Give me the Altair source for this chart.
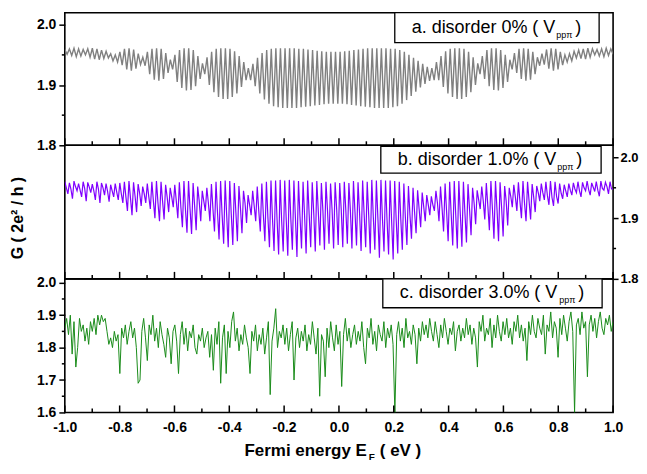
import altair as alt
import numpy as np
import pandas as pd

# ---------------- data ----------------
# panel a (disorder 0%): per oscillation, upper and lower extreme of G
a_top = [1.959, 1.960, 1.961, 1.960, 1.959, 1.960, 1.961, 1.960, 1.958, 1.956,
         1.952, 1.950,
         1.955, 1.960, 1.961, 1.959, 1.952,
         1.946,
         1.955, 1.960, 1.961, 1.960, 1.953,
         1.942,
         1.950, 1.958, 1.961, 1.961, 1.958, 1.948,
         1.936,
         1.946, 1.955, 1.960, 1.961, 1.961, 1.960, 1.956, 1.948, 1.938,
         1.928,
         1.935, 1.945, 1.953, 1.958, 1.960, 1.961, 1.961, 1.961, 1.961, 1.961,
         1.960, 1.960, 1.959, 1.958, 1.957, 1.956, 1.955, 1.955, 1.955, 1.955,
         1.956, 1.957, 1.958, 1.959, 1.960, 1.961, 1.961, 1.961, 1.961, 1.961,
         1.960, 1.960, 1.958, 1.955, 1.950, 1.945, 1.940, 1.935, 1.930,
         1.928,
         1.938, 1.948, 1.956, 1.960, 1.961, 1.961, 1.960, 1.955, 1.946,
         1.936,
         1.948, 1.958, 1.961, 1.961, 1.958, 1.950,
         1.942,
         1.953, 1.960, 1.961, 1.960, 1.955,
         1.946,
         1.952, 1.959, 1.961, 1.960, 1.955,
         1.950, 1.952,
         1.956, 1.958, 1.960, 1.961, 1.960, 1.959, 1.960, 1.961, 1.960]
a_bot = [1.951, 1.949, 1.947, 1.948, 1.950, 1.946, 1.943, 1.942, 1.944, 1.945,
         1.940, 1.938,
         1.933, 1.926, 1.924, 1.927, 1.934,
         1.932,
         1.918, 1.909, 1.907, 1.910, 1.920,
         1.926,
         1.905, 1.895, 1.891, 1.892, 1.898, 1.910,
         1.918,
         1.900, 1.888, 1.880, 1.877, 1.877, 1.880, 1.886, 1.897, 1.908,
         1.908,
         1.898, 1.886, 1.876, 1.869, 1.865, 1.863, 1.862, 1.862, 1.862, 1.862,
         1.863, 1.864, 1.865, 1.866, 1.867, 1.868, 1.869, 1.869, 1.869, 1.869,
         1.868, 1.867, 1.866, 1.865, 1.864, 1.863, 1.862, 1.862, 1.862, 1.862,
         1.863, 1.865, 1.869, 1.875, 1.882, 1.889, 1.896, 1.902, 1.907,
         1.908,
         1.908, 1.897, 1.886, 1.880, 1.877, 1.877, 1.880, 1.888, 1.900,
         1.918,
         1.910, 1.898, 1.892, 1.891, 1.895, 1.905,
         1.926,
         1.920, 1.910, 1.907, 1.909, 1.918,
         1.932,
         1.934, 1.927, 1.924, 1.926, 1.933,
         1.938, 1.940,
         1.945, 1.944, 1.943, 1.946, 1.950, 1.948, 1.947, 1.949, 1.951]

# panel b (disorder 1.0%): per oscillation top, shoulder, and spike bottom
b_top = [1.960, 1.958, 1.961, 1.957, 1.960, 1.959, 1.956, 1.960, 1.958, 1.957,
         1.955, 1.957,
         1.958, 1.960, 1.961, 1.959, 1.956,
         1.952,
         1.957, 1.960, 1.961, 1.960, 1.955,
         1.950,
         1.955, 1.959, 1.961, 1.961, 1.958, 1.952,
         1.945,
         1.950, 1.956, 1.960, 1.961, 1.962, 1.961, 1.958, 1.953, 1.945,
         1.938,
         1.945, 1.952, 1.957, 1.960, 1.962, 1.962, 1.963, 1.962, 1.963, 1.962,
         1.961, 1.960, 1.962, 1.959, 1.961, 1.958, 1.960, 1.957, 1.959, 1.958,
         1.960, 1.958, 1.961, 1.959, 1.962, 1.960, 1.963, 1.962, 1.963, 1.962,
         1.962, 1.961, 1.960, 1.957, 1.953, 1.950, 1.946, 1.942, 1.938,
         1.936,
         1.945, 1.952, 1.957, 1.960, 1.961, 1.961, 1.960, 1.956, 1.950,
         1.946,
         1.952, 1.958, 1.961, 1.961, 1.959, 1.953,
         1.950,
         1.955, 1.959, 1.961, 1.960, 1.956,
         1.953,
         1.957, 1.960, 1.961, 1.960, 1.957,
         1.955, 1.957,
         1.958, 1.960, 1.959, 1.961, 1.958, 1.960, 1.961, 1.959, 1.960]
b_mid = [1.950, 1.948, 1.952, 1.946, 1.949, 1.951, 1.945, 1.948, 1.950, 1.944,
         1.945, 1.943,
         1.940, 1.935, 1.933, 1.936, 1.941,
         1.940,
         1.935, 1.928, 1.925, 1.928, 1.935,
         1.935,
         1.928, 1.918, 1.914, 1.915, 1.920, 1.928,
         1.928,
         1.925, 1.915, 1.908, 1.905, 1.904, 1.906, 1.910, 1.917, 1.925,
         1.922,
         1.920, 1.912, 1.905, 1.900, 1.898, 1.896, 1.895, 1.896, 1.898, 1.900,
         1.902, 1.904, 1.906, 1.908, 1.910, 1.912, 1.913, 1.914, 1.915, 1.914,
         1.913, 1.912, 1.910, 1.908, 1.906, 1.904, 1.902, 1.900, 1.898, 1.896,
         1.895, 1.896, 1.898, 1.901, 1.905, 1.910, 1.915, 1.919, 1.922,
         1.922,
         1.925, 1.917, 1.910, 1.906, 1.904, 1.905, 1.908, 1.915, 1.925,
         1.930,
         1.928, 1.920, 1.915, 1.914, 1.918, 1.928,
         1.936,
         1.935, 1.928, 1.925, 1.928, 1.935,
         1.942,
         1.942, 1.937, 1.934, 1.936, 1.941,
         1.945, 1.946,
         1.948, 1.945, 1.950, 1.947, 1.951, 1.946, 1.949, 1.952, 1.948]
b_bot = [1.940, 1.932, 1.945, 1.935, 1.928, 1.942, 1.930, 1.925, 1.938, 1.927,
         1.935, 1.930,
         1.925, 1.912, 1.905, 1.910, 1.920,
         1.925,
         1.915, 1.900, 1.895, 1.898, 1.910,
         1.918,
         1.900, 1.885, 1.876, 1.874, 1.880, 1.895,
         1.912,
         1.895, 1.878, 1.865, 1.858, 1.852, 1.856, 1.862, 1.875, 1.892,
         1.905,
         1.895, 1.878, 1.862, 1.852, 1.846, 1.840, 1.845, 1.838, 1.848, 1.836,
         1.850, 1.842, 1.852, 1.845, 1.855, 1.848, 1.858, 1.850, 1.856, 1.852,
         1.858, 1.850, 1.855, 1.846, 1.852, 1.842, 1.848, 1.835, 1.845, 1.840,
         1.832, 1.842, 1.848, 1.856, 1.866, 1.875, 1.885, 1.895, 1.905,
         1.912,
         1.895, 1.878, 1.862, 1.855, 1.850, 1.853, 1.860, 1.872, 1.890,
         1.915,
         1.898, 1.880, 1.866, 1.862, 1.870, 1.888,
         1.918,
         1.912, 1.900, 1.895, 1.898, 1.910,
         1.928,
         1.930, 1.922, 1.920, 1.924, 1.932,
         1.935, 1.938,
         1.942, 1.935, 1.945, 1.938, 1.944, 1.936, 1.946, 1.940, 1.948]

# panel c (disorder 3.0%): sampled G values across the energy range
c_vals = [
    1.86, 1.89, 1.84, 1.90, 1.78, 1.88, 1.74, 1.80, 1.89, 1.85, 1.87, 1.82, 1.86, 1.81, 1.88, 1.85, 1.89, 1.84, 1.90, 1.87,
    1.90, 1.88, 1.89, 1.85, 1.81, 1.83, 1.80, 1.85, 1.82, 1.84, 1.72, 1.86, 1.83, 1.87, 1.81, 1.85, 1.88, 1.83, 1.86, 1.80,
    1.69, 1.70, 1.85, 1.89, 1.83, 1.76, 1.87, 1.84, 1.90, 1.82, 1.86, 1.80, 1.88, 1.84, 1.81, 1.77, 1.86, 1.83, 1.75, 1.85,
    1.87, 1.82, 1.72, 1.84, 1.88, 1.81, 1.86, 1.79, 1.85, 1.83, 1.87, 1.80, 1.78, 1.84, 1.82, 1.86, 1.80, 1.83, 1.85, 1.77,
    1.84, 1.73, 1.86, 1.81, 1.88, 1.69, 1.83, 1.87, 1.72, 1.85, 1.80, 1.88, 1.91, 1.82, 1.86, 1.79, 1.84, 1.81, 1.87, 1.83,
    1.80, 1.72, 1.85, 1.82, 1.87, 1.79, 1.84, 1.81, 1.86, 1.78, 1.83, 1.88, 1.655, 1.82, 1.86, 1.92, 1.80, 1.85, 1.83, 1.87,
    1.81, 1.86, 1.79, 1.84, 1.88, 1.70, 1.83, 1.86, 1.80, 1.85, 1.82, 1.87, 1.79, 1.84, 1.81, 1.88, 1.83, 1.78, 1.86, 1.65,
    1.84, 1.82, 1.71, 1.86, 1.80, 1.88, 1.83, 1.79, 1.87, 1.81, 1.85, 1.68, 1.84, 1.89, 1.82, 1.86, 1.80, 1.84, 1.87, 1.81,
    1.85, 1.82, 1.88, 1.80, 1.75, 1.86, 1.83, 1.89, 1.81, 1.85, 1.79, 1.87, 1.84, 1.82, 1.88, 1.80, 1.86, 1.83, 1.87, 1.81,
    1.60, 1.84, 1.88, 1.82, 1.86, 1.80, 1.89, 1.83, 1.85, 1.81, 1.87, 1.84, 1.75, 1.86, 1.82, 1.88, 1.84, 1.87, 1.83, 1.89,
    1.85, 1.82, 1.88, 1.84, 1.80, 1.87, 1.83, 1.89, 1.85, 1.81, 1.86, 1.84, 1.88, 1.79, 1.85, 1.87, 1.82, 1.86, 1.83, 1.89,
    1.84, 1.87, 1.81, 1.86, 1.83, 1.74, 1.88, 1.85, 1.90, 1.82, 1.86, 1.84, 1.89, 1.80, 1.87, 1.83, 1.90, 1.85, 1.82, 1.88,
    1.84, 1.89, 1.83, 1.86, 1.81, 1.88, 1.85, 1.90, 1.83, 1.87, 1.82, 1.86, 1.76, 1.88, 1.84, 1.90, 1.85, 1.83, 1.89, 1.86,
    1.84, 1.90, 1.78, 1.87, 1.85, 1.91, 1.83, 1.88, 1.86, 1.77, 1.89, 1.84, 1.90, 1.86, 1.82, 1.88, 1.91, 1.85, 1.60, 1.87,
    1.89, 1.84, 1.91, 1.86, 1.88, 1.71, 1.87, 1.90, 1.85, 1.89, 1.83, 1.88, 1.91, 1.86, 1.84, 1.89, 1.87, 1.90, 1.85, 1.88,
]

x_major = [-1.0, -0.8, -0.6, -0.4, -0.2, 0.0, 0.2, 0.4, 0.6, 0.8, 1.0]
x_minor = [-0.9, -0.7, -0.5, -0.3, -0.1, 0.1, 0.3, 0.5, 0.7, 0.9]
ab_yticks = [1.8, 1.9, 2.0]
ab_yminor = [1.85, 1.95]
c_yticks = [1.6, 1.7, 1.8, 1.9, 2.0]
c_yminor = [1.65, 1.75, 1.85, 1.95]

assert len(a_top) == len(a_bot) == 120
assert len(b_top) == len(b_mid) == len(b_bot) == 120
assert len(c_vals) == 300

# ---------------- chart ----------------
FONT = "Liberation Sans"
W = 550
H_A, H_B, H_C = 133, 134, 134


def interleave(*cols):
    out = []
    for grp in zip(*cols):
        out.extend(grp)
    return out


ya = interleave(a_top, a_bot)
df_a = pd.DataFrame({"x": np.linspace(-1, 1, len(ya)), "y": ya})
yb = interleave(b_top, b_mid, b_bot)
df_b = pd.DataFrame({"x": np.linspace(-1, 1, len(yb)), "y": yb})
df_c = pd.DataFrame({"x": np.linspace(-1, 1, len(c_vals)), "y": c_vals})

xs = alt.Scale(domain=[-1, 1], nice=False, zero=False)
one = pd.DataFrame({"k": [0]})


def txt(s, x, y, size, weight="normal", align="left", baseline="alphabetic", angle=None):
    kw = dict(font=FONT, fontSize=size, fontWeight=weight, align=align,
              baseline=baseline, color="black")
    if angle is not None:
        kw["angle"] = angle
    return alt.Chart(one).mark_text(**kw).encode(
        x=alt.value(x), y=alt.value(y), text=alt.value(s))


def yaxis(vals, orient, size, tick, pad):
    return alt.Axis(values=vals, orient=orient, format=".1f", tickSize=tick, tickWidth=1.5,
                    tickColor="black", domain=False, grid=False, labelFont=FONT,
                    labelFontSize=size, labelFontWeight="bold", labelColor="black",
                    labelPadding=pad, title=None)


def panel(df, color, sw, H, ydom, yvals, yminor, orient, bottom, box, main, base, extra=()):
    ys = alt.Scale(domain=ydom, nice=False, zero=False)
    if bottom:
        xaxis = alt.Axis(values=x_major,
                         labelExpr="replace(format(datum.value, '.1f'), '\u2212', '-')",
                         ticks=False, domain=False, grid=False, labelFont=FONT,
                         labelFontSize=14, labelFontWeight="bold", labelColor="black",
                         labelPadding=8, labelFlush=False, labelOverlap=False, title=None)
    else:
        xaxis = None
    if orient == "left":
        ya_ = yaxis(yvals, orient, 14, 6, 3)
    else:
        ya_ = yaxis(yvals, orient, 13, 5, 2)
    layers = [
        alt.Chart(df).mark_line(color=color, strokeWidth=sw, clip=True).encode(
            x=alt.X("x:Q", scale=xs, axis=xaxis),
            y=alt.Y("y:Q", scale=ys, axis=ya_)),
        alt.Chart(pd.DataFrame({"x": x_major})).mark_rule(color="black", strokeWidth=1.5).encode(
            x=alt.X("x:Q", scale=xs, axis=xaxis), y=alt.value(H - 7), y2=alt.value(H)),
        alt.Chart(pd.DataFrame({"x": x_minor})).mark_rule(color="black", strokeWidth=1.5).encode(
            x=alt.X("x:Q", scale=xs, axis=xaxis), y=alt.value(H - 4), y2=alt.value(H)),
    ]
    x0, x1 = (-3, 0) if orient == "left" else (W, W + 3)
    layers.append(
        alt.Chart(pd.DataFrame({"y": yminor})).mark_rule(color="black", strokeWidth=1.5).encode(
            y=alt.Y("y:Q", scale=ys, axis=ya_), x=alt.value(x0), x2=alt.value(x1)))
    bx0, bx1, by0, by1 = box
    layers.append(
        alt.Chart(one).mark_rect(fill="white", stroke="black", strokeWidth=1.3).encode(
            x=alt.value(bx0), x2=alt.value(bx1), y=alt.value(by0), y2=alt.value(by1)))
    tx, mw = bx0 + 17, main[1]
    layers.append(txt(main[0], tx, base, 18))
    layers.append(txt("pp\u03c0", tx + mw + 1, base + 5, 9))
    layers.append(txt(")", tx + mw + 20, base, 18))
    layers.extend(extra)
    return alt.layer(*layers).properties(width=W, height=H)


pa = panel(df_a, "#808080", 1.4, H_A, [1.8, 2.02], ab_yticks, ab_yminor, "left", False,
           (331, 536, 0, 30), ("a. disorder 0% ( V", 144), 20)

pb = panel(df_b, "#8000ff", 1.2, H_B, [1.8, 2.02], ab_yticks, ab_yminor, "right", False,
           (317, 538, 1, 28), ("b. disorder 1.0% ( V", 159), 20,
           extra=[txt("G  ( 2e\u00b2 / h )", -47, 73, 16, weight="bold", align="center",
                      baseline="middle", angle=270)])

pc = panel(df_c, "#1a8c1a", 1.0, H_C, [1.6, 2.012], c_yticks, c_yminor, "left", True,
           (319, 539, 0, 29), ("c. disorder 3.0% ( V", 159), 19,
           extra=[txt("Fermi energy E", 303, 178, 17, weight="bold", align="right"),
                  txt("F", 305, 182, 10, weight="bold"),
                  txt("( eV )", 316, 178, 17, weight="bold")])

chart = alt.vconcat(pa, pb, pc, spacing=0, bounds="flush").configure_view(
    stroke="black", strokeWidth=1.6
).properties(
    padding={"left": 1, "top": 2, "right": 0, "bottom": 0},
    background="white",
)

chart.save("out.html", embed_options={"renderer": "svg", "actions": False})
